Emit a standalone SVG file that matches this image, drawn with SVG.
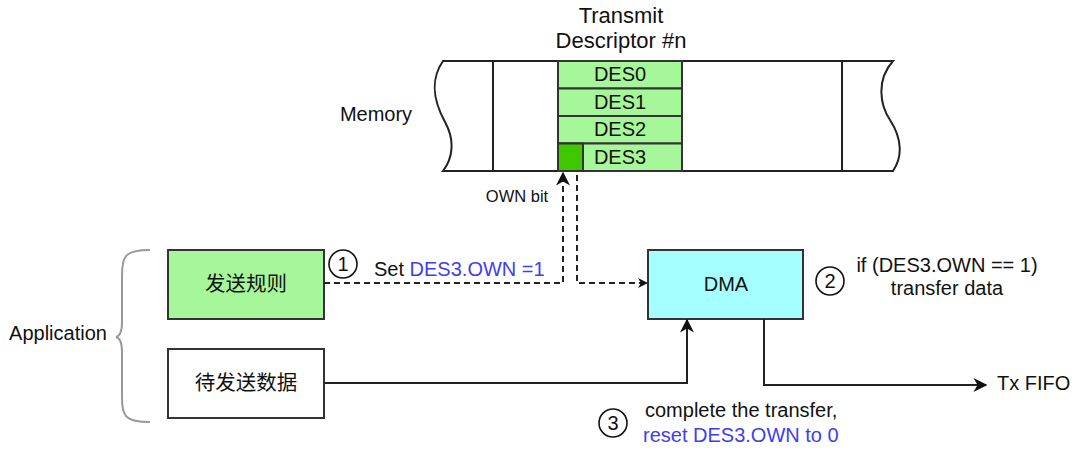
<svg xmlns="http://www.w3.org/2000/svg" width="1080" height="453" viewBox="0 0 1080 453">
<style>
text{font-family:"Liberation Sans",Arial,"Noto Sans CJK SC",sans-serif;font-size:20px;fill:#111}
.cn{font-family:"Noto Sans CJK SC","Liberation Sans",sans-serif;font-size:20.5px}
.blue{fill:#3D3DF5}
.box{stroke:#333;stroke-width:2}
.ln{fill:none;stroke:#222;stroke-width:2}
.dash{fill:none;stroke:#222;stroke-width:2;stroke-dasharray:6 4}
.circ{fill:#fff;stroke:#111;stroke-width:1.6}
</style>
<defs>
<marker id="ah" viewBox="0 0 10 10" refX="9" refY="5" markerWidth="10" markerHeight="10" markerUnits="userSpaceOnUse" orient="auto">
<path d="M0,0 L10,5 L0,10 L3,5 Z" fill="#111"/>
</marker>
<marker id="ahb" viewBox="0 0 10 10" refX="9" refY="5" markerWidth="14" markerHeight="14" markerUnits="userSpaceOnUse" orient="auto">
<path d="M0,0 L10,5 L0,10 L3,5 Z" fill="#111"/>
</marker>
</defs>

<g id="memory">
<path d="M443,61 H893 C876,80 880,105 890,120 C903,140 902,158 893,171 H443 C453,158 455,140 445,122 C433,100 430,80 443,61 Z" fill="#fff" stroke="#222" stroke-width="2"/>
<line x1="493" y1="61" x2="493" y2="171" stroke="#222" stroke-width="2"/>
<line x1="842" y1="61" x2="842" y2="171" stroke="#222" stroke-width="2"/>
<text x="376" y="121" text-anchor="middle">Memory</text>
</g>

<g id="descriptor">
<text x="621" y="23" text-anchor="middle" style="font-size:22px">Transmit</text>
<text x="621" y="48" text-anchor="middle" style="font-size:22px">Descriptor #n</text>
<rect x="558" y="61" width="124" height="27.5" fill="#A6F79A" class="box"/>
<rect x="558" y="88.5" width="124" height="27.5" fill="#A6F79A" class="box"/>
<rect x="558" y="116" width="124" height="27.5" fill="#A6F79A" class="box"/>
<rect x="558" y="143.5" width="124" height="27.5" fill="#A6F79A" class="box"/>
<rect x="558" y="143.5" width="25" height="27.5" fill="#3FC700" class="box"/>
<text x="620" y="81" text-anchor="middle">DES0</text>
<text x="620" y="109" text-anchor="middle">DES1</text>
<text x="620" y="136" text-anchor="middle">DES2</text>
<text x="620" y="164" text-anchor="middle">DES3</text>
<text x="517" y="202" text-anchor="middle" style="font-size:16.5px">OWN bit</text>
</g>

<g id="application">
<path d="M150,250 C125,250 122,256 122,275 L122,322 C122,332 120,336 116,337 C120,338 122,342 122,352 L122,398 C122,416 125,422 150,422" fill="none" stroke="#999" stroke-width="2"/>
<text x="58" y="340" text-anchor="middle">Application</text>
</g>

<g id="rule">
<rect x="168" y="250" width="156" height="69" fill="#A6F79A" class="box"/>
<text x="246" y="291" text-anchor="middle" class="cn">发送规则</text>
</g>

<g id="data">
<rect x="168" y="349" width="156" height="69" fill="#fff" class="box"/>
<text x="246" y="390" text-anchor="middle" class="cn">待发送数据</text>
</g>

<g id="dma">
<rect x="648" y="250" width="155" height="69" fill="#A6FFFF" class="box"/>
<text x="726" y="291" text-anchor="middle">DMA</text>
</g>

<g id="connectors">
<path d="M324,283 H563 V173" class="dash" marker-end="url(#ahb)"/>
<path d="M577,175 V283 H647" class="dash" marker-end="url(#ah)"/>
<path d="M324,383 H687 V320" class="ln" marker-end="url(#ahb)"/>
<path d="M764,319 V385 H986" class="ln" marker-end="url(#ahb)"/>
</g>

<g id="labels">
<circle cx="343" cy="264" r="14" class="circ"/>
<text x="343" y="271" text-anchor="middle">1</text>
<text x="374" y="276">Set <tspan class="blue">DES3.OWN =1</tspan></text>
<circle cx="830" cy="281" r="14" class="circ"/>
<text x="830" y="288" text-anchor="middle">2</text>
<text x="947" y="272" text-anchor="middle">if (DES3.OWN == 1)</text>
<text x="947" y="295" text-anchor="middle">transfer data</text>
<text x="997" y="390">Tx FIFO</text>
<circle cx="613" cy="423" r="14" class="circ"/>
<text x="613" y="430" text-anchor="middle">3</text>
<text x="645" y="417">complete the transfer,</text>
<text x="643" y="442" class="blue">reset DES3.OWN to 0</text>
</g>
</svg>
